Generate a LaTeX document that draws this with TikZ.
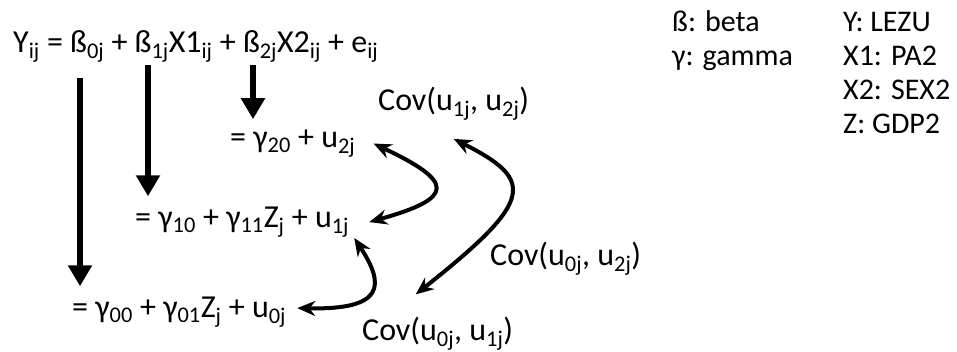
\documentclass[tikz,border=0pt]{standalone}
\usepackage{fontspec}
\setmainfont{Carlito}
\usetikzlibrary{arrows.meta}
\newcommand{\sbs}[1]{\textsubscript{#1}}

\begin{document}
\begin{tikzpicture}[x=1pt,y=-1pt,
    txt/.style={inner sep=0pt,anchor=base west,font=\fontsize{32}{37}\selectfont},
    keytxt/.style={txt,font=\fontsize{30}{35}\selectfont},
    down/.style={line width=6.5pt,shorten >=10pt,-{Triangle[length=21pt,width=23pt]}},
    cov/.style={line width=4pt,
      {Stealth[length=18pt,width=15pt]}-{Stealth[length=18pt,width=15pt]}}]
  \useasboundingbox (0,0) rectangle (957,351);
  % the model and its three levels
  \node[txt] (eq) at (13,52)
    {Y\sbs{ij} = ß\sbs{0j} + ß\sbs{1j}X1\sbs{ij} + ß\sbs{2j}X2\sbs{ij} + e\sbs{ij}};
  \node[txt] (lv2) at (230,147) {= γ\sbs{20} + u\sbs{2j}};
  \node[txt] (lv1) at (135,227) {= γ\sbs{10} + γ\sbs{11}Z\sbs{j} + u\sbs{1j}};
  \node[txt] (lv0) at (72,317) {= γ\sbs{00} + γ\sbs{01}Z\sbs{j} + u\sbs{0j}};
  \node[txt] (c12) at (378,110) {Cov(u\sbs{1j}, u\sbs{2j})};
  \node[txt] (c02) at (490,265) {Cov(u\sbs{0j}, u\sbs{2j})};
  \node[txt] (c01) at (362,340) {Cov(u\sbs{0j}, u\sbs{1j})};
  % key
  \node[keytxt] (kb) at (672,31) {ß: beta};
  \node[keytxt] (kg) at (672,65) {γ: gamma};
  \foreach \nm/\yy/\lab in {ky/31/{Y: LEZU},kx1/65/{X1: PA2},
      kx2/99/{X2: SEX2},kz/133/{Z: GDP2}}{
    \node[keytxt] (\nm) at (843,\yy) {\lab};
  }
  % coefficients down to their levels
  \coordinate (b0) at (80,78);
  \coordinate (b1) at (148,65);
  \coordinate (b2) at (253,65);
  \draw[down] (b0) -- (b0 |- lv0.north);
  \draw[down] (b1) -- (b1 |- lv1.north);
  \draw[down] (b2) -- (b2 |- lv2.north);
  % covariances
  \draw[cov] ([xshift=18pt]lv2.east) .. controls (455,182) and (455,198)
    .. ([xshift=20pt]lv1.east);
  \draw[cov] ([yshift=-18pt]c12.south) .. controls (535,180) and (535,200)
    .. ([xshift=-22pt,yshift=22pt]c01.north);
  \draw[cov] ([xshift=5pt]lv1.south east) .. controls (385,285) and (385,310)
    .. ([xshift=11pt,yshift=4pt]lv0.east);
\end{tikzpicture}
\end{document}
